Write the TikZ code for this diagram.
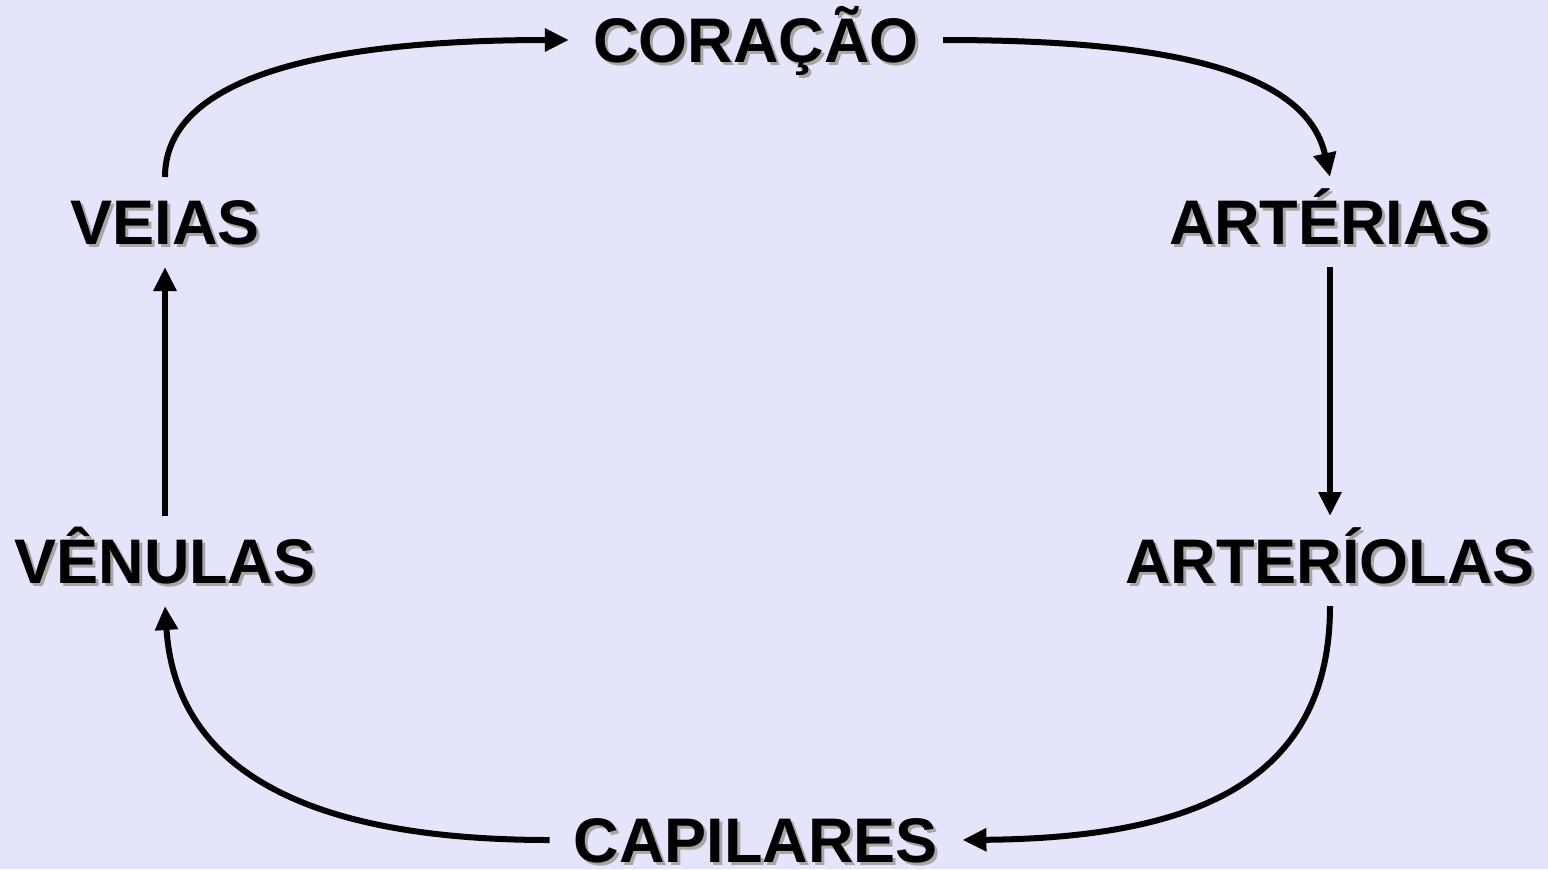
\documentclass[tikz,border=0pt]{standalone}
\usepackage{fontspec}
\setmainfont{Liberation Sans}
\usetikzlibrary{arrows.meta}
\definecolor{fundo}{HTML}{E4E4FA}
\definecolor{sombra}{HTML}{A6A6A6}
\newcommand{\comsombra}[1]{\rlap{\kern1.5pt\raisebox{-1.5pt}{\color{sombra}#1}}#1}

\begin{document}
\begin{tikzpicture}[x=0.5pt,y=-0.5pt,
	etapa/.style={font=\fontsize{31.5}{36}\selectfont\bfseries,text height=22.6pt,text depth=0pt,inner xsep=12pt,inner ysep=11pt},
	fluxo/.style={line width=3pt,-{Triangle[length=12pt,width=11pt]}}]
	\useasboundingbox (0,0) rectangle (1548,869);
	\fill[fundo] (0,0) rectangle (1548,869);
	\node[etapa] (coracao) at (756,40) {\comsombra{CORAÇÃO}};
	\node[etapa] (arterias) at (1330,222) {\comsombra{ARTÉRIAS}};
	\node[etapa] (arteriolas) at (1330,561) {\comsombra{ARTERÍOLAS}};
	\node[etapa] (capilares) at (756,840) {\comsombra{CAPILARES}};
	\node[etapa] (venulas) at (165,561) {\comsombra{VÊNULAS}};
	\node[etapa] (veias) at (165,222) {\comsombra{VEIAS}};
	\draw[fluxo] (veias.north) .. controls (165,75) and (330,40) .. (coracao.west);
	\draw[fluxo] (coracao.east) .. controls (1150,40) and (1305,65) .. (arterias.north);
	\draw[fluxo] (arterias.south) -- (arteriolas.north);
	\draw[fluxo] (arteriolas.south) .. controls (1330,790) and (1180,838) .. (capilares.east);
	\draw[fluxo] (capilares.west) .. controls (290,840) and (175,760) .. (venulas.south);
	\draw[fluxo] (venulas.north) -- (veias.south);
\end{tikzpicture}
\end{document}
